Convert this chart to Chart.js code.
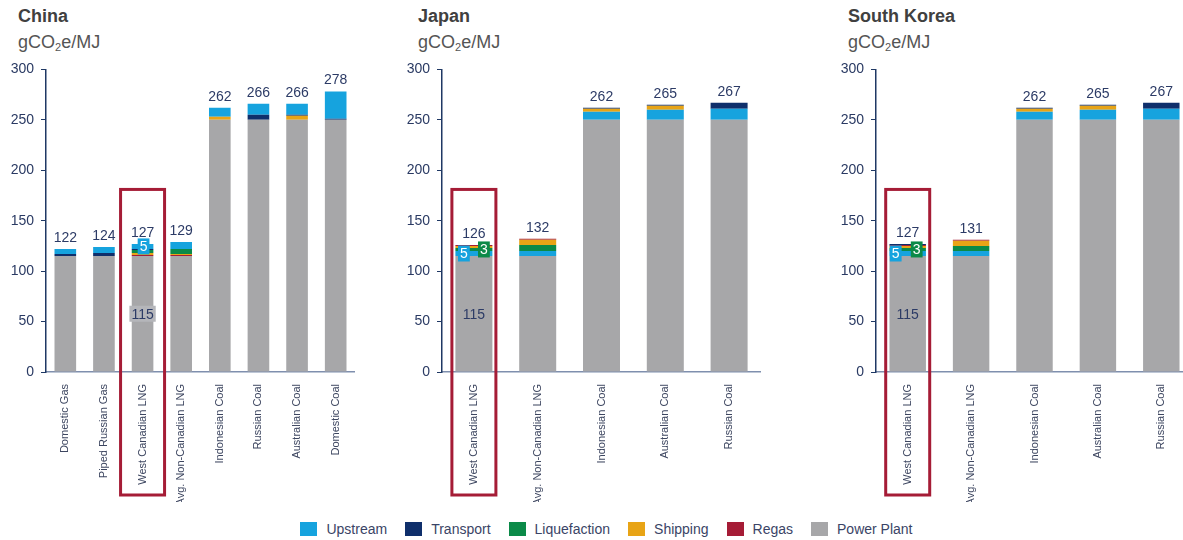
<!DOCTYPE html>
<html>
<head>
<meta charset="utf-8">
<script src="https://cdn.jsdelivr.net/npm/chart.js@4.4.1/dist/chart.umd.min.js"></script>
<style>
  html, body { margin: 0; padding: 0; background: #fff; overflow: hidden; }
  body { width: 1183px; height: 540px; position: relative; font-family: "Liberation Sans", Arial, sans-serif; }
  .panel-title { position: absolute; font-size: 18px; font-weight: bold; color: #404040; }
  .panel-unit { position: absolute; font-size: 18px; color: #555; }
  .panel-unit sub { font-size: 11px; vertical-align: -3px; }
  canvas { position: absolute; }
  .legend { position: absolute; top: 521px; left: 0; width: 1213px; display: flex; justify-content: center; font-size: 14px; color: #3a4466; }
  .legend span.item { display: flex; align-items: center; margin: 0 9px; }
  .legend span.box { display: inline-block; width: 17px; height: 14px; margin-right: 9px; }
</style>
</head>
<body>
<div class="panel-title" style="left:18px;top:6px">China</div>
<div class="panel-unit" style="left:18px;top:32px">gCO<sub>2</sub>e/MJ</div>
<div class="panel-title" style="left:418px;top:6px">Japan</div>
<div class="panel-unit" style="left:418px;top:32px">gCO<sub>2</sub>e/MJ</div>
<div class="panel-title" style="left:848px;top:6px">South Korea</div>
<div class="panel-unit" style="left:848px;top:32px">gCO<sub>2</sub>e/MJ</div>

<canvas id="chart-china" width="355" height="464" style="left:0;top:54px"></canvas>
<canvas id="chart-japan" width="363" height="464" style="left:398px;top:54px"></canvas>
<canvas id="chart-korea" width="363" height="464" style="left:830px;top:54px"></canvas>

<div class="legend" id="legend"></div>

<script>
'use strict';
// [ data ] start
var seriesNames = ['Upstream', 'Transport', 'Liquefaction', 'Shipping', 'Regas', 'Power Plant'];
var seriesColors = ['#16a3de', '#0f2f6b', '#0b8a48', '#e8a416', '#a51c36', '#a7a7a9'];

var chinaLabels = ['Domestic Gas', 'Piped Russian Gas', 'West Canadian LNG', 'Avg. Non-Canadian LNG',
                   'Indonesian Coal', 'Russian Coal', 'Australian Coal', 'Domestic Coal'];
var chinaPowerPlant   = [115, 115, 115, 115, 250, 250, 250, 250];
var chinaRegas        = [0, 0, 1, 1, 0, 0, 0, 0];
var chinaShipping     = [0, 0, 2, 1, 3, 0, 4, 0];
var chinaLiquefaction = [0, 0, 3, 5, 0, 0, 0, 0];
var chinaTransport    = [2, 3, 1, 0, 0, 5, 1, 1];
var chinaUpstream     = [5, 6, 5, 7, 9, 11, 11, 27];

var japanLabels = ['West Canadian LNG', 'Avg. Non-Canadian LNG', 'Indonesian Coal', 'Australian Coal', 'Russian Coal'];
var japanPowerPlant   = [115, 115, 250, 250, 250];
var japanUpstream     = [5, 5, 8, 10, 11];
var japanLiquefaction = [3, 6, 0, 0, 0];
var japanShipping     = [2, 5, 3, 4, 0];
var japanRegas        = [1, 1, 0, 0, 0];
var japanTransport    = [0, 0, 1, 1, 6];

var koreaLabels = ['West Canadian LNG', 'Avg. Non-Canadian LNG', 'Indonesian Coal', 'Australian Coal', 'Russian Coal'];
var koreaPowerPlant   = [115, 115, 250, 250, 250];
var koreaUpstream     = [5, 5, 8, 10, 11];
var koreaLiquefaction = [3, 5, 0, 0, 0];
var koreaShipping     = [2, 5, 3, 4, 0];
var koreaRegas        = [1, 1, 0, 0, 0];
var koreaTransport    = [1, 0, 1, 1, 6];

var yTicks = [0, 50, 100, 150, 200, 250, 300];
// [ data ] end

var FONT = '"Liberation Sans", Arial, sans-serif';

function colorOf(name) {
    return seriesColors[seriesNames.indexOf(name)];
}

// per-chart label settings, kept out of chart options so they are not resolved by Chart.js
var labelConfig = {};

// totals above bars, value labels inside bars, red highlight box
var barLabels = {
    id: 'barLabels',
    afterDraw: function(chart) {
        var opts = labelConfig[chart.canvas.id] || {};
        var ctx = chart.ctx;
        var xs = chart.scales.x, ys = chart.scales.y;
        var n = chart.data.labels.length;
        ctx.save();
        ctx.font = '14px ' + FONT;
        ctx.fillStyle = '#2c3b66';
        ctx.textAlign = 'center';
        ctx.textBaseline = 'bottom';
        for (var i = 0; i < n; i++) {
            var total = 0;
            chart.data.datasets.forEach(function(ds) { total += ds.data[i]; });
            ctx.fillText(total, xs.getPixelForValue(i), ys.getPixelForValue(total) - 4);
        }
        (opts.inner || []).forEach(function(l) {
            var di = chart.data.datasets.findIndex(function(d) { return d.label === l.series; });
            var el = chart.getDatasetMeta(di).data[l.index];
            var v = chart.data.datasets[di].data[l.index];
            var cx = el.x + (l.dx || 0);
            var cy = (el.y + el.base) / 2;
            ctx.font = '14px ' + FONT;
            var w = ctx.measureText(String(v)).width + 4;
            if (l.fill) {
                ctx.fillStyle = l.fill;
                ctx.fillRect(cx - w / 2, cy - 8, w, 16);
            }
            ctx.fillStyle = l.color;
            ctx.textBaseline = 'middle';
            ctx.fillText(v, cx, cy + 1);
        });
        if (opts.highlight !== undefined) {
            var hx = xs.getPixelForValue(opts.highlight);
            var top = ys.getPixelForValue(181);
            var bottom = chart.chartArea.bottom + 123;
            ctx.strokeStyle = '#a51c36';
            ctx.lineWidth = 3;
            ctx.strokeRect(hx - 22, top, 44, bottom - top);
        }
        ctx.restore();
    }
};

function makeChart(id, labels, stackOrder, values, yWidth, catPct, cfg) {
    labelConfig[id] = cfg;
    var datasets = stackOrder.map(function(name, k) {
        return {
            label: name,
            data: values[k],
            backgroundColor: colorOf(name),
            borderWidth: 0,
            barPercentage: 1,
            categoryPercentage: catPct,
            stack: 'total'
        };
    });
    return new Chart(document.getElementById(id), {
        type: 'bar',
        data: { labels: labels, datasets: datasets },
        options: {
            responsive: false,
            animation: false,
            layout: { padding: { top: 13, right: 0, bottom: 16, left: 0 } },
            plugins: {
                legend: { display: false },
                tooltip: { enabled: false }
            },
            scales: {
                x: {
                    stacked: true,
                    grid: { display: false },
                    border: { display: true, color: '#7f8fae', width: 1.5 },
                    ticks: {
                        autoSkip: false, minRotation: 90, maxRotation: 90,
                        color: '#3d4660', font: { family: FONT, size: 11 }, padding: 4
                    },
                    afterFit: function(scale) { scale.height = 130; }
                },
                y: {
                    stacked: true,
                    min: 0, max: 300,
                    afterBuildTicks: function(scale) {
                        scale.ticks = yTicks.map(function(v) { return { value: v }; });
                    },
                    grid: { drawOnChartArea: false, drawTicks: true, tickLength: 5, color: '#1f3864' },
                    border: { display: true, color: '#1f3864', width: 1.5 },
                    ticks: { color: '#2a3a63', font: { family: FONT, size: 14 }, padding: 7 },
                    afterFit: function(scale) { scale.width = yWidth; }
                }
            }
        },
        plugins: [barLabels]
    });
}

// [ China ] start
makeChart('chart-china', chinaLabels,
    ['Power Plant', 'Regas', 'Shipping', 'Liquefaction', 'Transport', 'Upstream'],
    [chinaPowerPlant, chinaRegas, chinaShipping, chinaLiquefaction, chinaTransport, chinaUpstream],
    46, 0.56,
    {
        highlight: 2,
        inner: [
            { series: 'Upstream', index: 2, dx: 1, fill: colorOf('Upstream'), color: '#ffffff' },
            { series: 'Power Plant', index: 2, dx: 0, fill: '#b5b6ba', color: '#2c3b66' }
        ]
    });
// [ China ] end

// [ Japan ] start
makeChart('chart-japan', japanLabels,
    ['Power Plant', 'Upstream', 'Liquefaction', 'Shipping', 'Regas', 'Transport'],
    [japanPowerPlant, japanUpstream, japanLiquefaction, japanShipping, japanRegas, japanTransport],
    44, 0.58,
    {
        highlight: 0,
        inner: [
            { series: 'Upstream', index: 0, dx: -10, fill: colorOf('Upstream'), color: '#ffffff' },
            { series: 'Liquefaction', index: 0, dx: 10, fill: colorOf('Liquefaction'), color: '#ffffff' },
            { series: 'Power Plant', index: 0, dx: 0, fill: null, color: '#2c3b66' }
        ]
    });
// [ Japan ] end

// [ South Korea ] start
makeChart('chart-korea', koreaLabels,
    ['Power Plant', 'Upstream', 'Liquefaction', 'Shipping', 'Regas', 'Transport'],
    [koreaPowerPlant, koreaUpstream, koreaLiquefaction, koreaShipping, koreaRegas, koreaTransport],
    46, 0.575,
    {
        highlight: 0,
        inner: [
            { series: 'Upstream', index: 0, dx: -12, fill: colorOf('Upstream'), color: '#ffffff' },
            { series: 'Liquefaction', index: 0, dx: 9, fill: colorOf('Liquefaction'), color: '#ffffff' },
            { series: 'Power Plant', index: 0, dx: 0, fill: null, color: '#2c3b66' }
        ]
    });
// [ South Korea ] end

// [ legend ] start
var legend = document.getElementById('legend');
seriesNames.forEach(function(name, k) {
    var item = document.createElement('span');
    item.className = 'item';
    var box = document.createElement('span');
    box.className = 'box';
    box.style.background = seriesColors[k];
    item.appendChild(box);
    item.appendChild(document.createTextNode(name));
    legend.appendChild(item);
});
// [ legend ] end
</script>
</body>
</html>
